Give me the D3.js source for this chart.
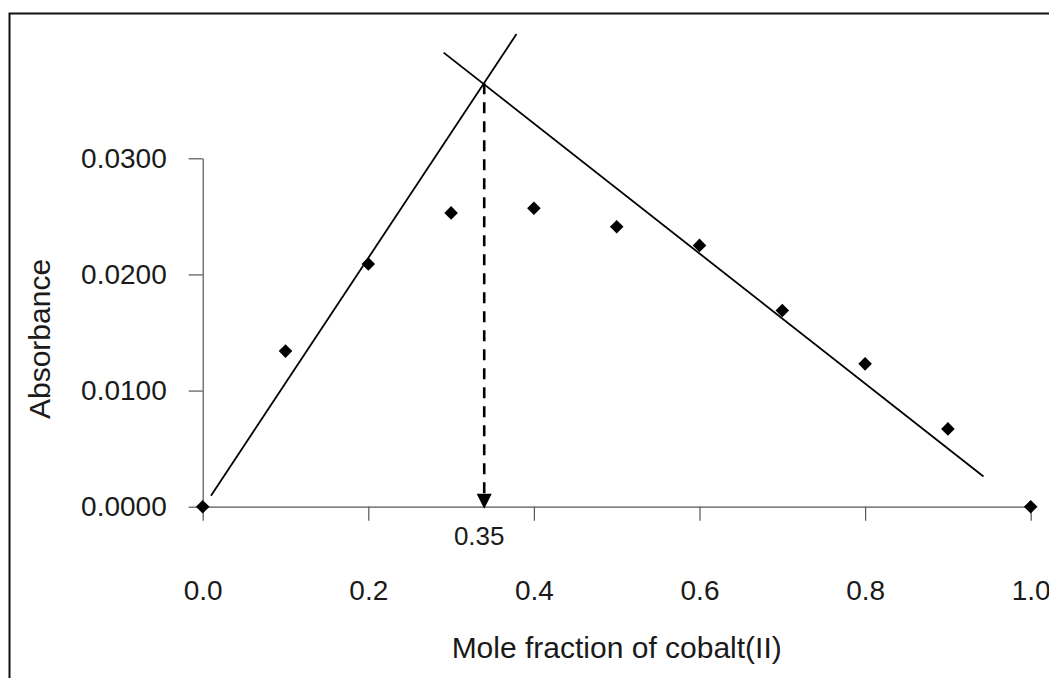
<!DOCTYPE html>
<html>
<head>
<meta charset="utf-8">
<script src="https://cdn.jsdelivr.net/npm/d3@7"></script>
<style>
  html, body { margin: 0; padding: 0; background: #fff; }
  svg { display: block; }
  text { font-family: "Liberation Sans", Arial, sans-serif; fill: #1a1a1a; }
</style>
</head>
<body>
<svg id="chart" width="1049" height="678"></svg>
<script>
// ---- data ----
const moleFraction = [0.0, 0.1, 0.2, 0.3, 0.4, 0.5, 0.6, 0.7, 0.8, 0.9, 1.0];
const absorbance   = [0.0000, 0.0134, 0.0209, 0.0253, 0.0257, 0.0241, 0.0225, 0.0169, 0.0123, 0.0067, 0.0000];
const xTicks = [0.0, 0.2, 0.4, 0.6, 0.8, 1.0];
const yTicks = [0.0000, 0.0100, 0.0200, 0.0300];
const risingLine  = [[0.010, 0.00095], [0.379, 0.0407]];
const fallingLine = [[0.291, 0.0391], [0.943, 0.0026]];
const intersectX = 0.340;
const intersectY = 0.03646;
const intersectLabel = "0.35";
const xTitle = "Mole fraction of cobalt(II)";
const yTitle = "Absorbance";

// ---- layout ----
const svg = d3.select("#chart");
svg.append("rect").attr("x", 0).attr("y", 0).attr("width", 1049).attr("height", 678).attr("fill", "#fff");
// outer frame (cropped on right/bottom)
svg.append("path")
  .attr("d", "M9.5,700 V13.5 H1060")
  .attr("fill", "none").attr("stroke", "#111").attr("stroke-width", 2);

const x = d3.scaleLinear().domain([0, 1]).range([202.7, 1030.7]);
const y = d3.scaleLinear().domain([0, 0.03]).range([506.7, 158.3]);

// y axis
const yAxis = svg.append("g")
  .attr("transform", `translate(${x(0)},0)`)
  .call(d3.axisLeft(y).tickValues(yTicks).tickFormat(d3.format(".4f"))
        .tickSize(14).tickSizeOuter(0).tickPadding(22));
// x axis
const xAxis = svg.append("g")
  .attr("transform", `translate(0,${y(0)})`)
  .call(d3.axisBottom(x).tickValues(xTicks).tickFormat(d3.format(".1f"))
        .tickSize(14).tickSizeOuter(0).tickPadding(59));

[yAxis, xAxis].forEach(g => {
  g.select(".domain").attr("stroke", "#555").attr("stroke-width", 1.2);
  g.selectAll(".tick line").attr("stroke", "#555").attr("stroke-width", 1.2);
  g.selectAll(".tick text").attr("font-size", 28).attr("fill", "#1a1a1a")
    .attr("font-family", "Liberation Sans, Arial, sans-serif");
});

// fitted lines
const lineGen = d3.line().x(d => x(d[0])).y(d => y(d[1]));
[risingLine, fallingLine].forEach(seg => {
  svg.append("path").attr("d", lineGen(seg))
    .attr("fill", "none").attr("stroke", "#000").attr("stroke-width", 1.8);
});

// dashed drop line + arrow
const arrowH = 13, arrowW = 15;
svg.append("line")
  .attr("x1", x(intersectX)).attr("x2", x(intersectX))
  .attr("y1", y(intersectY)).attr("y2", y(0) - arrowH)
  .attr("stroke", "#000").attr("stroke-width", 2.6)
  .attr("stroke-dasharray", "11,8");
svg.append("path")
  .attr("d", `M${x(intersectX) - arrowW / 2},${y(0) - arrowH} L${x(intersectX) + arrowW / 2},${y(0) - arrowH} L${x(intersectX)},${y(0) + 2} Z`)
  .attr("fill", "#000");
svg.append("text")
  .attr("x", x(intersectX) - 5).attr("y", y(0) + 38)
  .attr("text-anchor", "middle").attr("font-size", 26)
  .text(intersectLabel);

// data points (diamonds)
const r = 6.8;
svg.append("g").selectAll("path")
  .data(moleFraction.map((m, i) => [m, absorbance[i]]))
  .join("path")
  .attr("d", d => {
    const cx = x(d[0]), cy = y(d[1]);
    return `M${cx},${cy - r} L${cx + r},${cy} L${cx},${cy + r} L${cx - r},${cy} Z`;
  })
  .attr("fill", "#000");

// axis titles
svg.append("text")
  .attr("x", (x(0) + x(1)) / 2).attr("y", 658)
  .attr("text-anchor", "middle").attr("font-size", 30)
  .text(xTitle);
svg.append("text")
  .attr("transform", `translate(50,339) rotate(-90)`)
  .attr("text-anchor", "middle").attr("font-size", 30)
  .text(yTitle);
</script>
</body>
</html>
